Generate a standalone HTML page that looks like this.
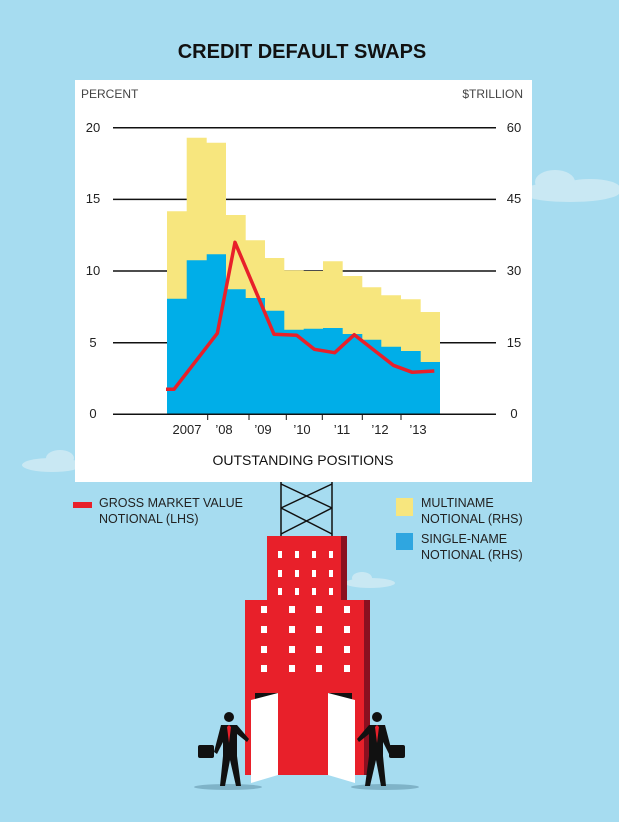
<!DOCTYPE html>
<html><head><style>
body{margin:0;width:619px;height:817px;background:#a6dcf0;overflow:hidden;font-family:"Liberation Sans",sans-serif}
</style></head><body>
<svg width="619" height="817" viewBox="0 0 619 817" xmlns="http://www.w3.org/2000/svg" font-family="Liberation Sans, sans-serif">
<rect width="619" height="817" fill="#a6dcf0"/>
<!-- clouds -->
<g fill="#c9e8f3">
<ellipse cx="570" cy="192" rx="50" ry="10"/><ellipse cx="555" cy="182" rx="20" ry="12"/><ellipse cx="590" cy="188" rx="30" ry="9"/>
<ellipse cx="52" cy="465" rx="30" ry="7"/><ellipse cx="60" cy="458" rx="14" ry="8"/>
<ellipse cx="370" cy="583" rx="25" ry="5"/><ellipse cx="362" cy="578" rx="10" ry="6"/>
</g>
<text x="302" y="58" text-anchor="middle" font-size="20" font-weight="bold" fill="#111">CREDIT DEFAULT SWAPS</text>
<rect x="75" y="80" width="457" height="402" fill="#fff"/>
<text x="81" y="98" font-size="12" fill="#444">PERCENT</text>
<text x="523" y="98" font-size="12" fill="#444" text-anchor="end">$TRILLION</text>
<g stroke="#111" stroke-width="1.5">
<line x1="113" y1="127.7" x2="496" y2="127.7"/><line x1="113" y1="199.4" x2="496" y2="199.4"/>
<line x1="113" y1="271" x2="496" y2="271"/><line x1="113" y1="342.7" x2="496" y2="342.7"/>
</g>
<g font-size="13" fill="#222" text-anchor="middle">
<text x="93" y="132">20</text><text x="93" y="203">15</text><text x="93" y="275">10</text><text x="93" y="347">5</text><text x="93" y="418">0</text>
<text x="514" y="132">60</text><text x="514" y="203">45</text><text x="514" y="275">30</text><text x="514" y="347">15</text><text x="514" y="418">0</text>
</g>
<path fill="#f7e67e" d="M167,414 V211.3 H186.7 V137.7 H206.7 V142.7 H226 V215 H245.7 V240.3 H265 V258 H284.3 V270.3 H303.7 V271 H323 V261.3 H342.7 V276 H362.3 V287.3 H381.3 V295.3 H401 V299.3 H420.7 V312 H440 V414 Z"/>
<path fill="#00aee8" d="M167,414 V298.7 H186.7 V260.3 H206.7 V254.3 H226 V289.3 H245.7 V298 H265 V310.7 H284.3 V329.7 H303.7 V328.7 H323 V328 H342.7 V334 H362.3 V339.7 H381.3 V346.7 H401 V351 H420.7 V362 H440 V414 Z"/>
<line x1="113" y1="414.3" x2="496" y2="414.3" stroke="#111" stroke-width="1.5"/>
<g stroke="#111" stroke-width="1"><line x1="207.7" y1="414" x2="207.7" y2="420"/><line x1="249" y1="414" x2="249" y2="420"/><line x1="286.3" y1="414" x2="286.3" y2="420"/><line x1="322.3" y1="414" x2="322.3" y2="420"/><line x1="362.3" y1="414" x2="362.3" y2="420"/><line x1="401" y1="414" x2="401" y2="420"/></g>
<polyline fill="none" stroke="#e8202a" stroke-width="3.5" stroke-linejoin="round" points="166,389.3 174,389.3 217.3,333.3 235,242.3 274,334.3 296.7,335.3 314.3,349.3 334.7,352.7 354.3,334.7 393.3,365.3 412.3,372.3 434.3,371"/>
<g font-size="13" fill="#222" text-anchor="middle">
<text x="187" y="434">2007</text><text x="224" y="434">’08</text><text x="263" y="434">’09</text><text x="302" y="434">’10</text><text x="342" y="434">’11</text><text x="380" y="434">’12</text><text x="418" y="434">’13</text>
</g>
<text x="303" y="465" font-size="14" fill="#111" text-anchor="middle">OUTSTANDING POSITIONS</text>
<!-- legend -->
<rect x="73" y="502" width="19" height="6" fill="#e8202a"/>
<g font-size="12.5" fill="#222">
<text x="99" y="507">GROSS MARKET VALUE</text><text x="99" y="523">NOTIONAL (LHS)</text>
<text x="421" y="507">MULTINAME</text><text x="421" y="523">NOTIONAL (RHS)</text>
<text x="421" y="543">SINGLE-NAME</text><text x="421" y="559">NOTIONAL (RHS)</text>
</g>
<rect x="396" y="498" width="17" height="18" fill="#f7e67e"/>
<rect x="396" y="533" width="17" height="17" fill="#2fa6e0"/>
<!-- tower -->
<g stroke="#111" stroke-width="1.5" fill="none">
<line x1="281" y1="482" x2="281" y2="536"/><line x1="332" y1="482" x2="332" y2="536"/>
<line x1="281" y1="484" x2="332" y2="508"/><line x1="332" y1="484" x2="281" y2="508"/>
<line x1="281" y1="508" x2="332" y2="534"/><line x1="332" y1="508" x2="281" y2="534"/>
</g>
<!-- building -->
<rect x="267" y="536" width="80" height="64" fill="#e8202a"/>
<rect x="341" y="536" width="6" height="64" fill="#8a1020"/>
<rect x="245" y="600" width="125" height="175" fill="#e8202a"/>
<rect x="364" y="600" width="6" height="175" fill="#8a1020"/>
<g fill="#fff">
<rect x="278" y="551" width="4" height="7"/><rect x="295" y="551" width="4" height="7"/><rect x="312" y="551" width="4" height="7"/><rect x="329" y="551" width="4" height="7"/>
<rect x="278" y="570" width="4" height="7"/><rect x="295" y="570" width="4" height="7"/><rect x="312" y="570" width="4" height="7"/><rect x="329" y="570" width="4" height="7"/>
<rect x="278" y="588" width="4" height="7"/><rect x="295" y="588" width="4" height="7"/><rect x="312" y="588" width="4" height="7"/><rect x="329" y="588" width="4" height="7"/>
<rect x="261" y="606" width="6" height="7"/><rect x="289" y="606" width="6" height="7"/><rect x="316" y="606" width="6" height="7"/><rect x="344" y="606" width="6" height="7"/>
<rect x="261" y="626" width="6" height="7"/><rect x="289" y="626" width="6" height="7"/><rect x="316" y="626" width="6" height="7"/><rect x="344" y="626" width="6" height="7"/>
<rect x="261" y="646" width="6" height="7"/><rect x="289" y="646" width="6" height="7"/><rect x="316" y="646" width="6" height="7"/><rect x="344" y="646" width="6" height="7"/>
<rect x="261" y="665" width="6" height="7"/><rect x="289" y="665" width="6" height="7"/><rect x="316" y="665" width="6" height="7"/><rect x="344" y="665" width="6" height="7"/>
</g>
<rect x="255" y="693" width="23" height="8" fill="#111"/><rect x="328" y="693" width="24" height="8" fill="#111"/>
<polygon points="251,700 278,693 278,775 251,783" fill="#fff"/>
<polygon points="328,693 355,700 355,783 328,775" fill="#fff"/>
<!-- shadows -->
<ellipse cx="228" cy="787" rx="34" ry="3" fill="#7fb3c8"/><ellipse cx="385" cy="787" rx="34" ry="3" fill="#7fb3c8"/>
<!-- left man -->
<g fill="#111">
<circle cx="229" cy="717" r="5"/>
<path d="M221,725 h16 l12,14 -2,3 -10,-8 v22 l4,30 h-5 l-6,-26 -5,26 h-5 l3,-30 v-14 l-6,12 -3,-2 z"/>
<rect x="198" y="745" width="16" height="13" rx="2"/>
</g>
<path d="M229,725 l-2,2 2,16 2,-16 z" fill="#e8202a"/>
<!-- right man -->
<g fill="#111">
<circle cx="377" cy="717" r="5"/>
<path d="M385,725 h-16 l-12,14 2,3 10,-8 v22 l-4,30 h5 l6,-26 5,26 h5 l-3,-30 v-14 l6,12 3,-2 z"/>
<rect x="389" y="745" width="16" height="13" rx="2"/>
</g>
<path d="M377,725 l-2,2 2,16 2,-16 z" fill="#e8202a"/>
</svg>
</body></html>
